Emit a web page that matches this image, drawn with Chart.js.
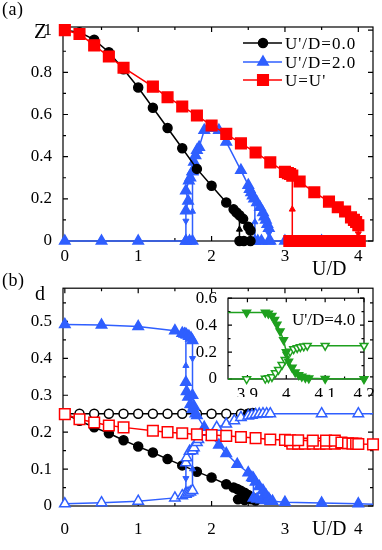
<!DOCTYPE html>
<html>
<head>
<meta charset="utf-8">
<script src="https://cdn.jsdelivr.net/npm/chart.js@4.4.1/dist/chart.umd.min.js"></script>
<style>
  html, body { margin: 0; padding: 0; background: #fff; }
  #wrap { position: relative; width: 382px; height: 550px; overflow: hidden;
          font-family: "Liberation Serif", "Times New Roman", serif; color: #000; }
  #wrap canvas { position: absolute; }
  .t { position: absolute; white-space: nowrap; line-height: 1; }
</style>
</head>
<body>
<div id="wrap">
  <canvas id="chartA" width="382" height="275" style="left:0;top:0"></canvas>
  <canvas id="chartB" width="382" height="275" style="left:0;top:275px"></canvas>
  <canvas id="chartI" width="192" height="112" style="left:190px;top:285px"></canvas>

  <div class="t" style="left:2px;top:0px;font-size:18px;letter-spacing:0.5px">(a)</div>
  <div class="t" style="left:34px;top:21px;font-size:21px">Z</div>
  <div class="t" style="left:312px;top:258px;font-size:20px">U/D</div>
  <div class="t" style="left:285px;top:35px;font-size:17px;letter-spacing:1px">U'/D=0.0</div>
  <div class="t" style="left:285px;top:54px;font-size:17px;letter-spacing:1px">U'/D=2.0</div>
  <div class="t" style="left:285px;top:72px;font-size:17px;letter-spacing:1px">U=U'</div>

  <div class="t" style="left:2px;top:271px;font-size:18px;letter-spacing:0.5px">(b)</div>
  <div class="t" style="left:35px;top:283px;font-size:20px">d</div>
  <div class="t" style="left:312px;top:518px;font-size:20px">U/D</div>
  <div class="t" style="left:292px;top:311px;font-size:17px">U'/D=4.0</div>
</div>

<script>
// ---------- (a) quasiparticle weight Z ----------
const aBlackU = [0, 0.2, 0.4, 0.6, 0.8, 1.0, 1.2, 1.4, 1.6, 1.8, 2.0, 2.2, 2.3, 2.34, 2.38, 2.43, 2.5, 2.53, 2.53, 2.44, 2.38];
const aBlackZ = [1.0, 0.99, 0.955, 0.895, 0.815, 0.728, 0.632, 0.536, 0.44, 0.342, 0.262, 0.183, 0.15, 0.135, 0.122, 0.105, 0.068, 0.05, 0, 0, 0];
const aBlackLoopU = [2.38, 2.38];
const aBlackLoopZ = [0, 0.12];

const aBlueU = [0, 0.5, 1.0, 1.65, 1.7, 1.74, 1.74, 1.76, 1.78, 1.8, 1.83, 1.9, 1.95, 2.1, 2.2, 2.4, 2.5, 2.52, 2.54, 2.56, 2.58, 2.62, 2.66, 2.7, 2.72, 2.74, 2.76, 2.78, 2.78, 2.8, 3.0, 3.5, 4.0];
const aBlueZ = [0, 0, 0, 0, 0, 0, 0.33, 0.375, 0.405, 0.43, 0.445, 0.525, 0.535, 0.525, 0.47, 0.335, 0.265, 0.245, 0.23, 0.215, 0.2, 0.183, 0.16, 0.135, 0.115, 0.1, 0.08, 0.06, 0, 0, 0, 0, 0];
const aBlueLoop1U = [1.65, 1.65, 1.68, 1.65, 1.69, 1.71, 1.74];
const aBlueLoop1Z = [0, 0.143, 0.19, 0.238, 0.286, 0.30, 0.33];
const aBlueLoop2U = [2.68, 2.63, 2.59, 2.59];
const aBlueLoop2Z = [0, 0, 0, 0.2];

const aRedU = [0, 0.2, 0.4, 0.6, 0.8, 1.2, 1.4, 1.6, 1.8, 2.0, 2.2, 2.4, 2.6, 2.8, 3.0, 3.04, 3.07, 3.1, 3.2, 3.4, 3.6, 3.72, 3.82, 3.9, 3.94, 3.97, 4.0, 4.0];
const aRedZ = [1.0, 0.982, 0.928, 0.875, 0.822, 0.732, 0.682, 0.638, 0.595, 0.548, 0.508, 0.463, 0.42, 0.373, 0.328, 0.322, 0.318, 0.31, 0.282, 0.231, 0.187, 0.16, 0.14, 0.112, 0.1, 0.09, 0.075, 0];
const aRedZeroU = [3.06, 3.1, 3.14, 3.18, 3.22, 3.26, 3.3, 3.34, 3.38, 3.42, 3.46, 3.5, 3.54, 3.58, 3.62, 3.66, 3.7, 3.74, 3.78, 3.82, 3.86, 3.9, 3.94, 3.98, 4.02];
const aRedZeroZ = [0, 0, 0, 0, 0, 0, 0, 0, 0, 0, 0, 0, 0, 0, 0, 0, 0, 0, 0, 0, 0, 0, 0, 0, 0];
const aRedLoopU = [3.1, 3.1];
const aRedLoopZ = [0, 0.31];

// hysteresis arrows (direction: 0 = up, 180 = down)
const aArrowBlackU = [2.38], aArrowBlackZ = [0.055], aArrowBlackDir = [0];
const aArrowBlueU = [1.65, 1.74, 2.59, 2.78], aArrowBlueZ = [0.095, 0.14, 0.09, 0.035], aArrowBlueDir = [180, 0, 0, 180];
const aArrowRedU = [3.1, 4.0], aArrowRedZ = [0.15, 0.035], aArrowRedDir = [0, 180];

// ---------- (b) double occupancy d ----------
const bBlackOpenU = [0, 0.2, 0.4, 0.6, 0.8, 1.0, 1.2, 1.4, 1.6, 1.8, 2.0, 2.2, 2.4, 2.5];
const bBlackOpenD = [0.25, 0.25, 0.25, 0.25, 0.25, 0.25, 0.25, 0.25, 0.25, 0.25, 0.25, 0.25, 0.25, 0.25];
const bBlackU = [0, 0.2, 0.4, 0.6, 0.8, 1.0, 1.2, 1.4, 1.6, 1.8, 2.0, 2.2, 2.3, 2.35, 2.4, 2.45, 2.5, 2.55];
const bBlackD = [0.25, 0.231, 0.213, 0.197, 0.178, 0.161, 0.145, 0.127, 0.11, 0.093, 0.077, 0.059, 0.05, 0.046, 0.041, 0.036, 0.03, 0.024];
const bBlackLowU = [2.36, 2.45, 2.54, 2.6];
const bBlackLowD = [0.018, 0.016, 0.018, 0.015];
const bBlackHighU = [2.5, 2.56];
const bBlackHighD = [0.25, 0.252];

const bBlueU = [0, 0.5, 1.0, 1.5, 1.6, 1.63, 1.66, 1.69, 1.72, 1.74, 1.74, 1.76, 1.8, 1.9, 2.0, 2.1, 2.2, 2.35, 2.5, 2.55, 2.6, 2.65, 2.7, 2.74, 2.78, 2.83, 3.0, 3.5, 4.0, 4.2];
const bBlueD = [0.492, 0.49, 0.486, 0.475, 0.468, 0.466, 0.463, 0.46, 0.455, 0.448, 0.3, 0.27, 0.245, 0.213, 0.187, 0.165, 0.142, 0.113, 0.09, 0.077, 0.065, 0.053, 0.042, 0.03, 0.02, 0.013, 0.01, 0.008, 0.006, 0.005];
const bBlueLoop1U = [1.65, 1.65, 1.66, 1.68, 1.71, 1.74, 1.78];
const bBlueLoop1D = [0.465, 0.335, 0.31, 0.295, 0.275, 0.262, 0.25];
const bBlueLoop2U = [2.57, 2.57, 2.62, 2.68, 2.74, 2.8];
const bBlueLoop2D = [0.075, 0.022, 0.019, 0.017, 0.015, 0.013];

const bBlueOpenU = [0, 0.5, 1.0, 1.5, 1.6, 1.65, 1.68, 1.71, 1.74, 1.74, 1.76, 1.8, 1.82, 1.91, 2.07, 2.2, 2.31, 2.4, 2.5, 2.55, 2.6, 2.65, 2.7, 2.75, 2.8, 3.5, 4.0, 4.2];
const bBlueOpenD = [0.006, 0.009, 0.013, 0.022, 0.028, 0.032, 0.035, 0.038, 0.042, 0.15, 0.158, 0.172, 0.18, 0.2, 0.213, 0.222, 0.231, 0.24, 0.244, 0.246, 0.248, 0.249, 0.25, 0.25, 0.25, 0.25, 0.25, 0.25];
const bBlueOpenLoopU = [1.65, 1.65, 1.66, 1.7, 1.74];
const bBlueOpenLoopD = [0.035, 0.117, 0.131, 0.148, 0.155];

const bRedU = [0, 0.2, 0.4, 0.6, 0.8, 1.2, 1.4, 1.6, 1.8, 2.0, 2.2, 2.4, 2.6, 2.8, 3.0, 3.07, 3.18, 3.38, 3.56, 3.68, 3.77, 3.86, 3.92, 3.97, 4.0, 4.2];
const bRedD = [0.249, 0.235, 0.226, 0.218, 0.213, 0.204, 0.2, 0.197, 0.194, 0.192, 0.19, 0.187, 0.184, 0.18, 0.179, 0.178, 0.178, 0.177, 0.177, 0.177, 0.172, 0.17, 0.169, 0.169, 0.168, 0.167];
const bRedLowU = [3.07, 3.1, 3.18, 3.27, 3.38, 3.47, 3.56, 3.68, 3.77];
const bRedLowD = [0.176, 0.169, 0.169, 0.169, 0.169, 0.169, 0.169, 0.169, 0.17];

const bArrowBlueU = [1.65, 1.74], bArrowBlueD = [0.38, 0.40], bArrowBlueDir = [0, 180];
const bArrowBlueOpenU = [1.65, 1.74], bArrowBlueOpenD = [0.075, 0.1], bArrowBlueOpenDir = [180, 0];

// ---------- inset U'/D = 4.0 ----------
const iFilledU = [3.8, 3.898, 3.946, 3.954, 3.963, 3.97, 3.976, 3.984, 3.993, 4.0, 4.006, 4.015, 4.023, 4.032, 4.04, 4.049, 4.058, 4.1, 4.2];
const iFilledD = [0.493, 0.493, 0.493, 0.486, 0.47, 0.44, 0.405, 0.355, 0.29, 0.2, 0.13, 0.085, 0.05, 0.03, 0.018, 0.01, 0.005, 0.002, 0];
const iOpenU = [3.8, 3.898, 3.946, 3.954, 3.963, 3.972, 3.98, 3.989, 3.997, 4.002, 4.01, 4.019, 4.028, 4.036, 4.045, 4.054, 4.1, 4.2];
const iOpenD = [0, 0, 0.003, 0.008, 0.015, 0.044, 0.069, 0.106, 0.143, 0.18, 0.204, 0.222, 0.231, 0.238, 0.243, 0.247, 0.247, 0.247];

const BLACK = '#000000', BLUE = '#2f5fff', RED = '#ff0000', GREEN = '#1ea01e';
const SERIF = '"Liberation Serif", "Times New Roman", serif';

function pts(us, vs) { return us.map((u, i) => ({ x: u, y: vs[i] })); }

function marks(color, style, radius, open) {
  return {
    borderColor: color, backgroundColor: color,
    pointStyle: style, pointRadius: radius,
    pointBackgroundColor: open ? '#fff' : color, pointBorderColor: color,
    pointBorderWidth: 1.5, borderWidth: 1.5
  };
}

function line(us, vs, st, extra) {
  return Object.assign({ data: pts(us, vs), showLine: true, clip: false }, st, extra || {});
}

function arrows(us, vs, dirs, color) {
  return {
    data: pts(us, vs), showLine: false, clip: false,
    pointStyle: 'triangle', pointRadius: 3.5, pointRotation: dirs,
    pointBackgroundColor: color, pointBorderColor: color, pointBorderWidth: 1
  };
}

// hide the marker of the last point (line only runs on to the edge)
function lastBare(us, r) { return us.map((u, i) => (i === us.length - 1 ? 0 : r)); }

// inward ticks on all four sides + frame
const frameTicks = {
  id: 'frameTicks',
  beforeDatasetsDraw(chart, args, o) {
    const { ctx, chartArea: a, scales: { x, y } } = chart;
    ctx.save();
    ctx.strokeStyle = '#000';
    ctx.lineWidth = 1.2;
    ctx.strokeRect(a.left, a.top, a.right - a.left, a.bottom - a.top);
    ctx.beginPath();
    const xt = (vals, len) => vals.forEach(v => {
      const px = x.getPixelForValue(v);
      ctx.moveTo(px, a.bottom); ctx.lineTo(px, a.bottom - len);
      ctx.moveTo(px, a.top); ctx.lineTo(px, a.top + len);
    });
    const yt = (vals, len) => vals.forEach(v => {
      const py = y.getPixelForValue(v);
      ctx.moveTo(a.left, py); ctx.lineTo(a.left + len, py);
      ctx.moveTo(a.right, py); ctx.lineTo(a.right - len, py);
    });
    xt(o.xMajor, o.major); xt(o.xMinor, o.minor);
    yt(o.yMajor, o.major); yt(o.yMinor, o.minor);
    ctx.stroke();
    ctx.restore();
  }
};

// legend glyphs of panel (a)
const legendGlyphs = {
  id: 'legendGlyphs',
  afterDatasetsDraw(chart, args, o) {
    if (!o.items) return;
    const ctx = chart.ctx;
    o.items.forEach(it => {
      ctx.save();
      ctx.strokeStyle = it.color; ctx.fillStyle = it.color; ctx.lineWidth = 1.5;
      ctx.beginPath(); ctx.moveTo(o.x0, it.y); ctx.lineTo(o.x1, it.y); ctx.stroke();
      Chart.helpers.drawPoint(ctx, { pointStyle: it.style, radius: it.radius, rotation: 0, borderWidth: 1.5 }, o.xm, it.y);
      ctx.restore();
    });
  }
};

function tickList(vals) { return s => { s.ticks = vals.map(v => ({ value: v })); }; }
function fmt(v) { return String(Math.round(v * 100) / 100); }

function options(c) {
  return {
    responsive: false, animation: false, devicePixelRatio: 1,
    events: [],
    layout: { padding: { top: c.top, right: c.right, left: 0, bottom: 0 } },
    plugins: {
      legend: { display: false }, tooltip: { enabled: false },
      frameTicks: c.frame, legendGlyphs: c.legend || {}
    },
    scales: {
      x: {
        type: 'linear', min: c.xMin, max: c.xMax,
        grid: { display: false }, border: { display: false },
        afterBuildTicks: tickList(c.frame.xMajor),
        afterFit: s => { s.height = c.xH; },
        ticks: { color: '#000', padding: c.xPad, maxRotation: 0, autoSkip: false,
                 font: { family: SERIF, size: 17 }, callback: fmt }
      },
      y: {
        type: 'linear', min: c.yMin, max: c.yMax,
        grid: { display: false }, border: { display: false },
        afterBuildTicks: tickList(c.frame.yMajor),
        afterFit: s => { s.width = c.yW; },
        ticks: { color: '#000', padding: 3, autoSkip: false,
                 font: { family: SERIF, size: 17 }, callback: fmt }
      }
    }
  };
}

const xMajorMain = [0, 1, 2, 3, 4];
const xMinorMain = [0.5, 1.5, 2.5, 3.5];

const blackFill = marks(BLACK, 'circle', 4.5, false);
const blackOpen = marks(BLACK, 'circle', 4.5, true);
const blueFill = marks(BLUE, 'triangle', 6, false);
const blueOpen = marks(BLUE, 'triangle', 6, true);
const redFill = marks(RED, 'rect', 7.5, false);
const redOpen = marks(RED, 'rect', 7.5, true);

new Chart(document.getElementById('chartA'), {
  type: 'scatter',
  data: {
    datasets: [
      line(aRedU, aRedZ, redFill),
      line(aRedZeroU, aRedZeroZ, redFill),
      line(aRedLoopU, aRedLoopZ, redFill, { pointRadius: 0 }),
      arrows(aArrowRedU, aArrowRedZ, aArrowRedDir, RED),
      line(aBlackU, aBlackZ, blackFill),
      line(aBlackLoopU, aBlackLoopZ, blackFill, { pointRadius: 0 }),
      arrows(aArrowBlackU, aArrowBlackZ, aArrowBlackDir, BLACK),
      line(aBlueU, aBlueZ, blueFill),
      line(aBlueLoop1U, aBlueLoop1Z, blueFill),
      line(aBlueLoop2U, aBlueLoop2Z, blueFill, { pointRadius: [6, 6, 6, 0] }),
      arrows(aArrowBlueU, aArrowBlueZ, aArrowBlueDir, BLUE)
    ]
  },
  options: options({
    top: 27, right: 5, xH: 34, yW: 63, xPad: -3,
    xMin: -0.025, xMax: 4.2, yMin: 0, yMax: 1.015,
    frame: { xMajor: xMajorMain, xMinor: xMinorMain,
             yMajor: [0, 0.2, 0.4, 0.6, 0.8, 1], yMinor: [0.1, 0.3, 0.5, 0.7, 0.9],
             major: 5, minor: 3 },
    legend: { x0: 243, x1: 282, xm: 263, items: [
      { y: 43, color: BLACK, style: 'circle', radius: 4.5 },
      { y: 62, color: BLUE, style: 'triangle', radius: 6 },
      { y: 80, color: RED, style: 'rect', radius: 7.5 }
    ] }
  }),
  plugins: [frameTicks, legendGlyphs]
});

new Chart(document.getElementById('chartB'), {
  type: 'scatter',
  data: {
    datasets: [
      line(bRedU, bRedD, redOpen),
      line(bRedLowU, bRedLowD, redOpen),
      line(bBlueU, bBlueD, blueFill, { pointRadius: lastBare(bBlueU, 6) }),
      line(bBlueLoop1U, bBlueLoop1D, blueFill),
      line(bBlueLoop2U, bBlueLoop2D, blueFill),
      arrows(bArrowBlueU, bArrowBlueD, bArrowBlueDir, BLUE),
      line(bBlueOpenU, bBlueOpenD, blueOpen, { pointRadius: lastBare(bBlueOpenU, 6) }),
      line(bBlueOpenLoopU, bBlueOpenLoopD, blueOpen),
      arrows(bArrowBlueOpenU, bArrowBlueOpenD, bArrowBlueOpenDir, BLUE),
      line(bBlackHighU, bBlackHighD, blackFill),
      line(bBlackU, bBlackD, blackFill),
      line(bBlackLowU, bBlackLowD, blackFill),
      line(bBlackOpenU, bBlackOpenD, blackOpen)
    ]
  },
  options: options({
    top: 13, right: 5, xH: 44, yW: 63, xPad: 5,
    xMin: -0.025, xMax: 4.2, yMin: 0, yMax: 0.59,
    frame: { xMajor: xMajorMain, xMinor: xMinorMain,
             yMajor: [0, 0.1, 0.2, 0.3, 0.4, 0.5], yMinor: [0.05, 0.15, 0.25, 0.35, 0.45, 0.55],
             major: 5, minor: 3 }
  }),
  plugins: [frameTicks]
});

const greenFill = marks(GREEN, 'triangle', 4.5, false);
const greenOpen = marks(GREEN, 'triangle', 4.5, true);
const insetClip = { left: 0, top: false, right: false, bottom: false };

new Chart(document.getElementById('chartI'), {
  type: 'scatter',
  data: {
    datasets: [
      line(iFilledU, iFilledD, greenFill, { pointRotation: 180, clip: insetClip }),
      line(iOpenU, iOpenD, greenOpen, { pointRotation: 180, clip: insetClip })
    ]
  },
  options: options({
    top: 13, right: 18, xH: 18, yW: 38, xPad: -3,
    xMin: 3.85, xMax: 4.2, yMin: 0, yMax: 0.6,
    frame: { xMajor: [3.9, 4.0, 4.1, 4.2], xMinor: [3.95, 4.05, 4.15],
             yMajor: [0, 0.2, 0.4, 0.6], yMinor: [0.1, 0.3, 0.5],
             major: 4, minor: 2.5 }
  }),
  plugins: [frameTicks]
});
</script>
</body>
</html>
